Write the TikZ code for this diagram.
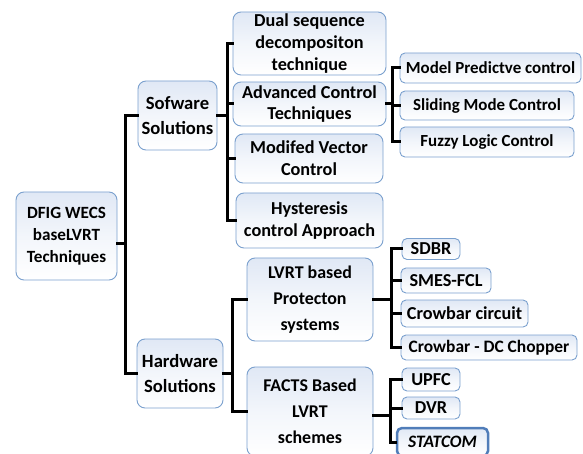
\documentclass[tikz,border=0pt]{standalone}
\usepackage{fontspec}
\setmainfont{Carlito}
\definecolor{bordblue}{RGB}{122,160,206}
\definecolor{statblue}{RGB}{80,125,185}
\definecolor{filltop}{RGB}{224,232,245}
\begin{document}
\begin{tikzpicture}[x=1bp,y=-1bp,
  fsz/.style 2 args={font=\fontsize{#1}{#2}\selectfont\bfseries},
  box/.style={draw=bordblue, line width=0.9bp, rounded corners=8bp, top color=filltop, bottom color=white, middle color=white!60!filltop,
    inner sep=0pt, align=center, fsz={18.3}{22}},
  sbox/.style={box, rounded corners=5bp},
  conn/.style={line width=3bp, line cap=rect}]
\useasboundingbox (0,0) rectangle (583,454);

% level 0
\node[box, fsz={17.2}{22}, minimum width=101bp, minimum height=88bp] (dfig) at (66.5,236) {DFIG WECS\\baseLVRT\\Techniques};
% level 1
\node[box, fsz={18.7}{25}, minimum width=79bp, minimum height=69bp] (sw) at (177.5,115.5) {Sofware\\Solutions};
\node[box, fsz={18.7}{25}, minimum width=86bp, minimum height=69bp] (hw) at (180,373.5) {Hardware\\Solutions};
% level 2 software
\node[box, minimum width=153bp, minimum height=63bp] (dual) at (309.5,43.5) {Dual sequence\\decompositon\\technique};
\node[box, minimum width=153bp, minimum height=44bp] (adv) at (309.5,104) {Advanced Control\\Techniques};
\node[box, minimum width=148bp, minimum height=49bp] (mvc) at (309,158.5) {Modifed Vector\\Control};
\node[box, minimum width=147bp, minimum height=55bp] (hys) at (309.5,220.5) {Hysteresis\\control Approach};
% level 2 hardware
\node[box, fsz={18}{26}, minimum width=126bp, minimum height=83bp] (lvrt) at (310,299.5) {LVRT based\\Protecton\\systems};
\node[box, fsz={18}{26}, minimum width=126bp, minimum height=89bp] (facts) at (310,411.5) {FACTS Based\\LVRT\\schemes};
% level 3 advanced control
\node[sbox, fsz={17}{20}, minimum width=181bp, minimum height=30bp] (mpc) at (490.5,68) {Model Predictve control};
\node[sbox, fsz={17}{20}, minimum width=174bp, minimum height=29bp] (smc) at (487,105.5) {Sliding Mode Control};
\node[sbox, fsz={17}{20}, minimum width=174bp, minimum height=30bp] (flc) at (487,142) {Fuzzy Logic Control};
% level 3 LVRT
\node[sbox, minimum width=58bp, minimum height=21bp] (sdbr) at (431,249) {SDBR};
\node[sbox, minimum width=90bp, minimum height=25bp] (smes) at (446,280.5) {SMES-FCL};
\node[sbox, minimum width=127bp, minimum height=27bp] (cbc) at (464.5,313.5) {Crowbar circuit};
\node[sbox, fsz={17.5}{20}, minimum width=176bp, minimum height=25bp] (cbdc) at (489,347.5) {Crowbar - DC Chopper};
% level 3 FACTS
\node[sbox, minimum width=58bp, minimum height=23bp] (upfc) at (431,379.5) {UPFC};
\node[sbox, minimum width=58bp, minimum height=22bp] (dvr) at (431,408) {DVR};
\node[sbox, draw=statblue, line width=2.5bp, minimum width=91bp, minimum height=28bp, font=\fontsize{17.5}{20}\selectfont\bfseries\itshape] (stat) at (442.5,442) {STATCOM};

% buses
\coordinate (b0) at (125,0);
\coordinate (b1) at (227,0);
\coordinate (b2) at (232,0);
\coordinate (b3) at (392,0);
\coordinate (b4) at (391,0);
\coordinate (b5) at (390,0);

% DFIG -> software / hardware
\draw[conn] ([yshift=-8bp]dfig.east) -- ([yshift=-8bp]dfig.east -| b0);
\draw[conn] (sw.west -| b0) -- (sw.west);
\draw[conn] (hw.west -| b0) -- (hw.west);
\draw[conn] (sw.west -| b0) -- (hw.west -| b0);

% software -> children
\draw[conn] (sw.east) -- (sw.east -| b1);
\draw[conn] (dual.west -| b1) -- (hys.west -| b1);
\draw[conn] (dual.west -| b1) -- (dual.west);
\draw[conn] (adv.west -| b1) -- (adv.west);
\draw[conn] (mvc.west -| b1) -- (mvc.west);
\draw[conn] (hys.west -| b1) -- (hys.west);

% hardware -> children
\draw[conn] (hw.east) -- (hw.east -| b2);
\draw[conn] (lvrt.west -| b2) -- (facts.west -| b2);
\draw[conn] (lvrt.west -| b2) -- (lvrt.west);
\draw[conn] (facts.west -| b2) -- (facts.west);

% advanced -> children
\draw[conn] (adv.east) -- (adv.east -| b3);
\draw[conn] (mpc.west -| b3) -- (flc.west -| b3);
\draw[conn] (mpc.west -| b3) -- (mpc.west);
\draw[conn] (smc.west -| b3) -- (smc.west);
\draw[conn] (flc.west -| b3) -- (flc.west);

% LVRT -> children
\draw[conn] (lvrt.east) -- (lvrt.east -| b4);
\draw[conn] (sdbr.west -| b4) -- (cbdc.west -| b4);
\draw[conn] (sdbr.west -| b4) -- (sdbr.west);
\draw[conn] (smes.west -| b4) -- (smes.west);
\draw[conn] (cbc.west -| b4) -- (cbc.west);
\draw[conn] (cbdc.west -| b4) -- (cbdc.west);

% FACTS -> children
\draw[conn] ([yshift=-4bp]facts.east) -- ([yshift=-4bp]facts.east -| b5);
\draw[conn] (upfc.west -| b5) -- (stat.west -| b5);
\draw[conn] (upfc.west -| b5) -- (upfc.west);
\draw[conn] (dvr.west -| b5) -- (dvr.west);
\draw[conn] (stat.west -| b5) -- (stat.west);
\end{tikzpicture}
\end{document}
